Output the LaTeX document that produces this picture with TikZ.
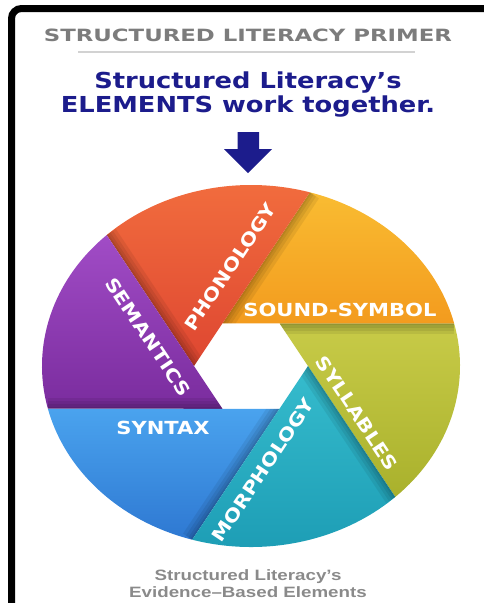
\documentclass[tikz,border=0pt]{standalone}
\usepackage{fontspec}
\newfontfamily\labfont{DejaVu Sans}[FakeStretch=1.17]
\newfontfamily\titlefont{DejaVu Sans}[FakeStretch=1.35]
\newfontfamily\capfont{Liberation Sans}[FakeStretch=1.25]
\definecolor{navyblue}{HTML}{1C1C8C}
\definecolor{titlegray}{HTML}{7C7C7C}
\definecolor{footgray}{HTML}{8A8A8A}
\definecolor{redA}{HTML}{F26E3E}\definecolor{redB}{HTML}{DE4631}
\definecolor{orgA}{HTML}{F9BC32}\definecolor{orgB}{HTML}{F39B1E}
\definecolor{grnA}{HTML}{C8CB48}\definecolor{grnB}{HTML}{A9B12C}
\definecolor{tealA}{HTML}{36BCCD}\definecolor{tealB}{HTML}{1C9CB4}
\definecolor{bluA}{HTML}{4AA3EE}\definecolor{bluB}{HTML}{2E78D2}
\definecolor{purA}{HTML}{A14CC6}\definecolor{purB}{HTML}{7A2C9E}
% one blade of the aperture: #1 top colour, #2 bottom colour, #3 index
\newcommand{\bladepath}[1]{({60*#1}:57) -- ++({60*#1-60}:174.6)
  arc[start angle={60*#1-46.34},end angle={60*#1+13.66},radius=209]
  -- ({60*#1+60}:57) -- cycle}
\newcommand{\aperblade}[3]{%
  \shade[top color=#1,bottom color=#2] \bladepath{#3};
  \begin{scope}
    \clip \bladepath{#3};
    \foreach \w in {4,9,15,22}
      \draw[black,opacity=0.07,line width=\w pt] ({60*#3+60}:57) -- ++({60*#3}:174.6);
  \end{scope}}

\begin{document}
\begin{tikzpicture}[x=1pt,y=-1pt,
  title/.style={text=titlegray,font=\titlefont\bfseries\fontsize{16.9}{18}\selectfont,inner sep=0pt},
  head/.style={text=navyblue,align=center,font=\labfont\bfseries\fontsize{22}{24}\selectfont,inner sep=0pt},
  lab/.style={text=white,font=\labfont\bfseries\fontsize{18}{20}\selectfont,inner sep=0pt},
  foot/.style={text=footgray,align=center,font=\capfont\bfseries\fontsize{15}{17}\selectfont,inner sep=0pt}]
\useasboundingbox (0,0) rectangle (484,603);
% --- frame ---
\draw[line width=7pt,rounded corners=10pt] (11.5,615) -- (11.5,8.5) -- (495,8.5);
% --- headings ---
\node[title] (title) at (248,35) {STRUCTURED LITERACY PRIMER};
\draw[gray!35,line width=1.2pt] (78,52) -- (415,52);
\node[head] (head) at (248,95) {Structured Literacy’s\\ELEMENTS work together.};
\fill[navyblue] (237.5,132) -- (259,132) -- (259,149) -- (272,149) -- (248,173)
  -- (224,149) -- (237.5,149) -- cycle;
% --- aperture wheel ---
\begin{scope}[shift={(251,366)},yscale=-0.866]
  \aperblade{grnA}{grnB}{0}
  \aperblade{orgA}{orgB}{1}
  \aperblade{redA}{redB}{2}
  \aperblade{purA}{purB}{3}
  \aperblade{bluA}{bluB}{4}
  \aperblade{tealA}{tealB}{5}
\end{scope}
% --- blade labels ---
\node[lab] (sound) at (340,310) {SOUND-SYMBOL};
\node[lab,rotate=56.3] (phon) at (230,267) {PHONOLOGY};
\node[lab,rotate=-56.3] (sem) at (148,337) {SEMANTICS};
\node[lab] (syn) at (163,428) {SYNTAX};
\node[lab,rotate=56.3] (morph) at (263,470) {MORPHOLOGY};
\node[lab,rotate=-56.3] (syll) at (357,413) {SYLLABLES};
% --- caption ---
\node[foot] (foot) at (248,584) {Structured Literacy’s\\Evidence–Based Elements};
\end{tikzpicture}
\end{document}
